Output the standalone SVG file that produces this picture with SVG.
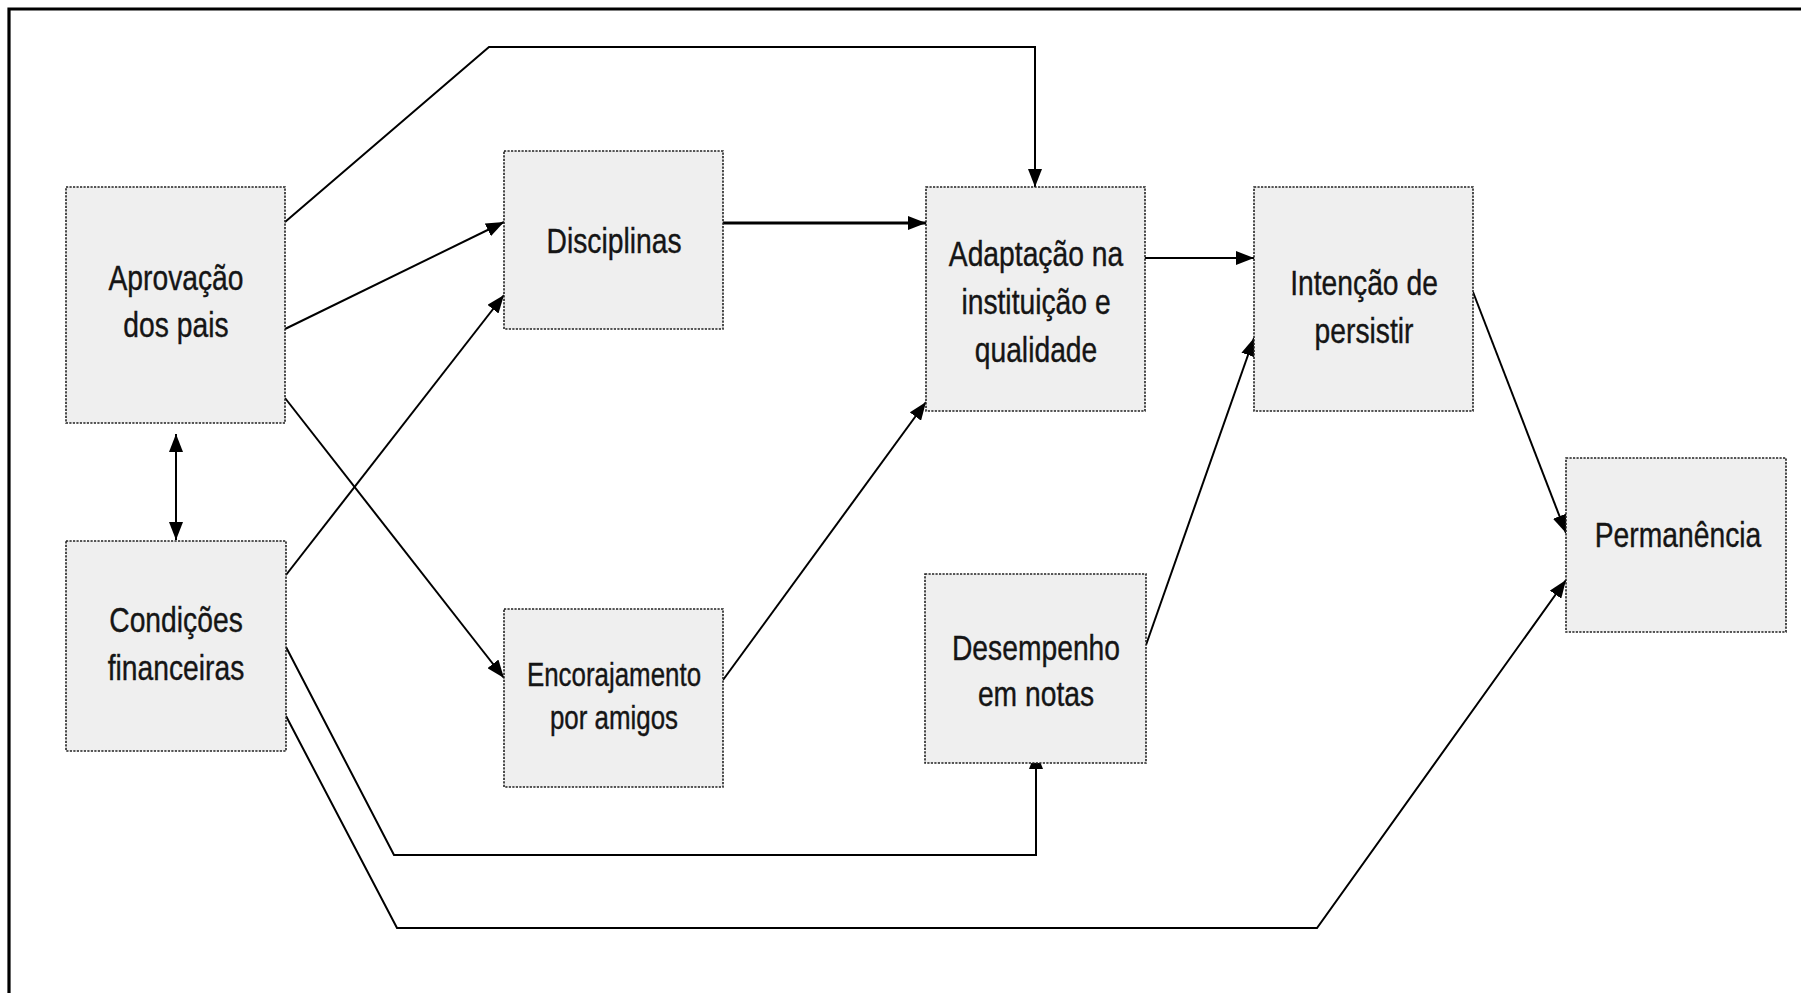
<svg xmlns="http://www.w3.org/2000/svg" width="1801" height="993" viewBox="0 0 1801 993">
<defs>
<marker id="arr" viewBox="0 0 18 14" refX="18" refY="7" markerWidth="18" markerHeight="14" markerUnits="userSpaceOnUse" orient="auto-start-reverse">
<path d="M0,0 L18,7 L0,14 z" fill="#000"/>
</marker>
<style>
.box{fill:#efefef;stroke:#222;stroke-width:1.6;stroke-dasharray:2.2 1.3}
.lbl{font-family:"Liberation Sans",Arial,sans-serif;font-size:36px;fill:#151515;stroke:#151515;stroke-width:0.4;text-anchor:middle}
.sm{font-size:33px}
.c{fill:none;stroke:#000;stroke-width:2;stroke-linejoin:miter}
.thick{stroke-width:3}
.arr{marker-end:url(#arr)}
</style>
</defs>
<rect x="0" y="0" width="1801" height="993" fill="#fff"/>
<path d="M9,993 L9,9 L1801,9" fill="none" stroke="#000" stroke-width="3.2"/>

<g id="connectors">
<polyline class="c arr" points="285,222 489,47 1035,47 1035,187" stroke-width="2.4"/>
<line class="c arr" x1="285" y1="329" x2="504" y2="222" stroke-width="2.6"/>
<line class="c arr" x1="285" y1="398" x2="504" y2="678"/>
<line class="c" x1="176" y1="434" x2="176" y2="540" marker-start="url(#arr)" marker-end="url(#arr)"/>
<line class="c arr" x1="286" y1="575" x2="504" y2="295"/>
<polyline class="c arr" points="286,647 394,855 1036,855 1036,751"/>
<polyline class="c arr" points="286,716 397,928 1317,928 1566,580"/>
<line class="c thick arr" x1="723" y1="223" x2="926" y2="223"/>
<line class="c arr" x1="723" y1="680" x2="926" y2="402"/>
<line class="c arr" x1="1145" y1="258" x2="1254" y2="258" stroke="#333" stroke-width="3.6"/>
<line class="c arr" x1="1146" y1="645" x2="1254" y2="338"/>
<line class="c arr" x1="1473" y1="292" x2="1566" y2="533"/>
</g>

<g id="aprovacao">
<rect class="box" x="66" y="187" width="219" height="236"/>
<text class="lbl" transform="translate(176,290) scale(0.785,1)">Aprovação</text>
<text class="lbl" transform="translate(176,337) scale(0.785,1)">dos pais</text>
</g>
<g id="condicoes">
<rect class="box" x="66" y="541" width="220" height="210"/>
<text class="lbl" transform="translate(176,632) scale(0.785,1)">Condições</text>
<text class="lbl" transform="translate(176,680) scale(0.785,1)">financeiras</text>
</g>
<g id="disciplinas">
<rect class="box" x="504" y="151" width="219" height="178"/>
<text class="lbl" transform="translate(614,253) scale(0.785,1)">Disciplinas</text>
</g>
<g id="encorajamento">
<rect class="box" x="504" y="609" width="219" height="178"/>
<text class="lbl sm" transform="translate(614,686) scale(0.785,1)">Encorajamento</text>
<text class="lbl sm" transform="translate(614,729) scale(0.785,1)">por amigos</text>
</g>
<g id="adaptacao">
<rect class="box" x="926" y="187" width="219" height="224"/>
<text class="lbl" transform="translate(1036,266) scale(0.785,1)">Adaptação na</text>
<text class="lbl" transform="translate(1036,314) scale(0.785,1)">instituição e</text>
<text class="lbl" transform="translate(1036,362) scale(0.785,1)">qualidade</text>
</g>
<g id="desempenho">
<rect class="box" x="925" y="574" width="221" height="189"/>
<text class="lbl" transform="translate(1036,660) scale(0.785,1)">Desempenho</text>
<text class="lbl" transform="translate(1036,706) scale(0.785,1)">em notas</text>
</g>
<g id="intencao">
<rect class="box" x="1254" y="187" width="219" height="224"/>
<text class="lbl" transform="translate(1364,295) scale(0.785,1)">Intenção de</text>
<text class="lbl" transform="translate(1364,343) scale(0.785,1)">persistir</text>
</g>
<g id="permanencia">
<rect class="box" x="1566" y="458" width="220" height="174"/>
<text class="lbl" transform="translate(1678,547) scale(0.785,1)">Permanência</text>
</g>
</svg>
